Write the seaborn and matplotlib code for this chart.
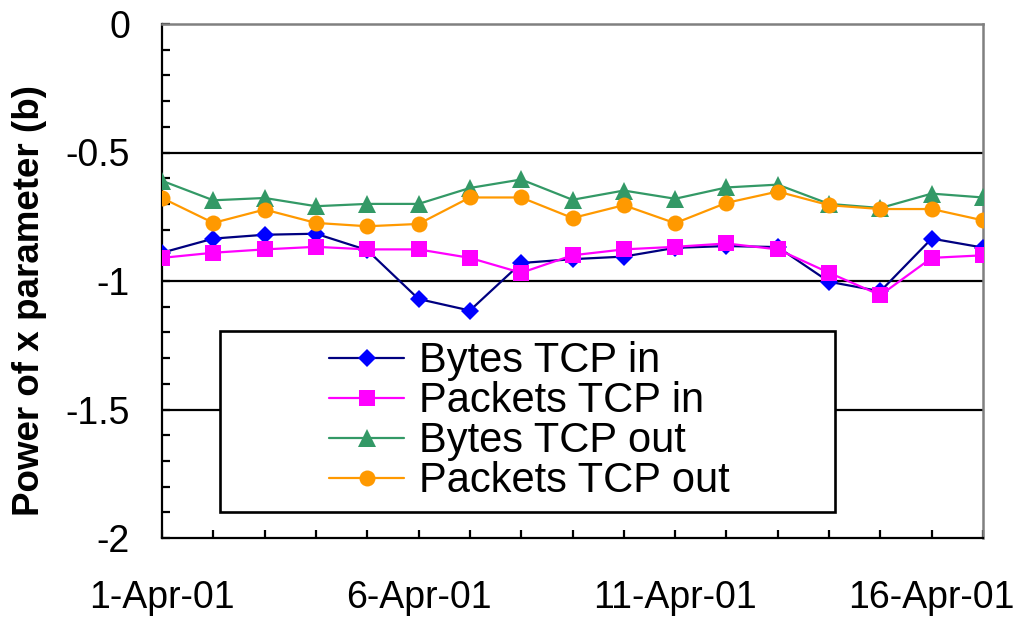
import numpy as np
import pandas as pd
import matplotlib
matplotlib.use("Agg")
import matplotlib.pyplot as plt
import seaborn as sns
from matplotlib.patches import Rectangle
from matplotlib.ticker import MultipleLocator, FixedLocator, FixedFormatter, FuncFormatter

# ---------------- data ----------------
days = list(range(1, 18))  # 1-Apr-01 .. 17-Apr-01
tick_days = [1, 6, 11, 16]
tick_labels = ["1-Apr-01", "6-Apr-01", "11-Apr-01", "16-Apr-01"]

bytes_tcp_in = [-0.89, -0.835, -0.82, -0.816, -0.88, -1.07, -1.115, -0.93, -0.915,
                -0.905, -0.871, -0.864, -0.868, -1.003, -1.04, -0.835, -0.87]
packets_tcp_in = [-0.91, -0.89, -0.877, -0.867, -0.877, -0.877, -0.91, -0.968, -0.9,
                  -0.877, -0.867, -0.854, -0.877, -0.968, -1.055, -0.91, -0.9]
bytes_tcp_out = [-0.61, -0.686, -0.677, -0.709, -0.70, -0.70, -0.638, -0.605, -0.684,
                 -0.648, -0.68, -0.636, -0.625, -0.70, -0.716, -0.66, -0.675]
packets_tcp_out = [-0.677, -0.774, -0.722, -0.774, -0.787, -0.778, -0.675, -0.675, -0.755,
                   -0.705, -0.775, -0.696, -0.652, -0.705, -0.72, -0.72, -0.764]

series_names = ["Bytes TCP in", "Packets TCP in", "Bytes TCP out", "Packets TCP out"]
series_values = [bytes_tcp_in, packets_tcp_in, bytes_tcp_out, packets_tcp_out]

# ---------------- style ----------------
sns.set_style("white")
plt.rcParams["font.family"] = ["Liberation Sans", "DejaVu Sans"]
plt.rcParams["text.color"] = "black"
plt.rcParams["axes.labelcolor"] = "black"
plt.rcParams["xtick.color"] = "black"
plt.rcParams["ytick.color"] = "black"

line_colors = ["#000080", "#FF00FF", "#339966", "#FF9900"]
marker_colors = ["#0000FF", "#FF00FF", "#339966", "#FF9900"]
markers = ["D", "s", "^", "o"]
msizes = [9, 12, 13, 11.5]

fig = plt.figure(figsize=(10.17, 6.24), dpi=100)
ax = fig.add_axes([162 / 1017, 1 - 538 / 624, (983 - 162) / 1017, (538 - 24) / 624])

for name, vals, lc, mc, mk, ms in zip(series_names, series_values, line_colors,
                                      marker_colors, markers, msizes):
    df = pd.DataFrame({"day": days, "value": vals})
    sns.lineplot(data=df, x="day", y="value", ax=ax, color=lc, marker=mk,
                 markersize=ms, markerfacecolor=mc, markeredgecolor=mc,
                 markeredgewidth=0, linewidth=1.6, label=name, zorder=3)

# horizontal gridlines
for yv in [-0.5, -1.0, -1.5]:
    ax.axhline(yv, color="black", linewidth=1.6, zorder=1)

ax.set_xlim(1, 17)
ax.set_ylim(-2, 0)

# spines
for s in ["left", "bottom"]:
    ax.spines[s].set_color("black")
    ax.spines[s].set_linewidth(1.6)
for s in ["top", "right"]:
    ax.spines[s].set_color("#808080")
    ax.spines[s].set_linewidth(1.8)

# ticks
ax.xaxis.set_major_locator(FixedLocator(tick_days))
ax.xaxis.set_major_formatter(FixedFormatter(tick_labels))
ax.xaxis.set_minor_locator(MultipleLocator(1))
ax.yaxis.set_major_locator(MultipleLocator(0.5))
ax.yaxis.set_minor_locator(MultipleLocator(0.1))
ax.xaxis.remove_overlapping_locs = False
ax.yaxis.remove_overlapping_locs = False


def yfmt(v, pos):
    if abs(v) < 1e-9:
        return "0"
    return "%g" % v


ax.yaxis.set_major_formatter(FuncFormatter(yfmt))

ax.tick_params(axis="both", which="major", direction="out", length=10, width=1.6,
               color="black", labelsize=27, labelcolor="black")
ax.tick_params(axis="x", which="major", pad=20)
ax.tick_params(axis="y", which="major", pad=13)
ax.tick_params(axis="both", which="minor", direction="in", length=5.5, width=1.6,
               color="black", bottom=True, left=True)
ax.tick_params(top=False, right=False, which="both")

ax.set_xlabel("")
ax.set_ylabel("Power of x parameter (b)", fontsize=26.5, fontweight="bold",
              va="center", color="black")
ax.yaxis.set_label_coords((30 - 162) / 821, (538 - 301) / 514)

# legend with box
rect = Rectangle((0.0706, 0.0506), 0.749, 0.352, transform=ax.transAxes,
                 facecolor="white", edgecolor="black", linewidth=1.9, zorder=4.8)
ax.add_patch(rect)
leg = ax.legend(loc="center", bbox_to_anchor=(0.448, 0.2267), frameon=False,
                fontsize=30, handlelength=1.8, handletextpad=0.36,
                labelspacing=0.0, borderpad=0, borderaxespad=0)
for t in leg.get_texts():
    t.set_color("black")
leg.set_zorder(5)

fig.savefig("out.png", dpi=100, facecolor="white")
